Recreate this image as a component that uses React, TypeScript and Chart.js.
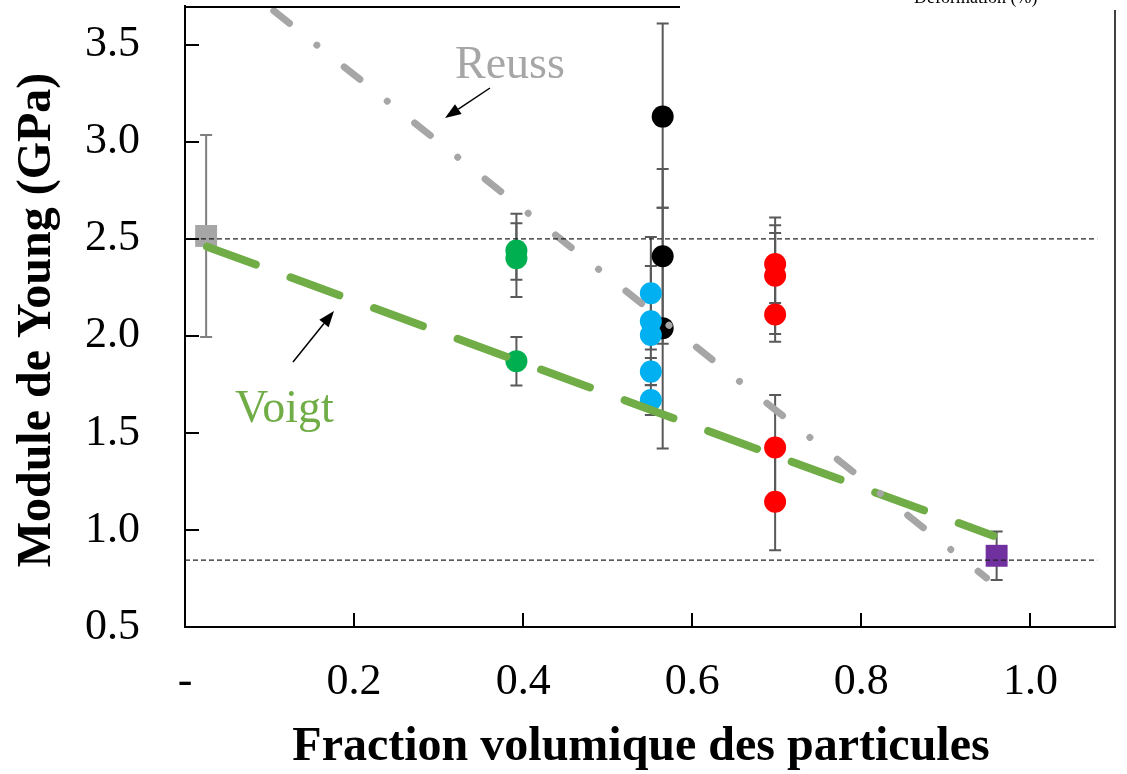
import React, { useEffect, useRef } from 'react';
import { Chart, registerables } from 'chart.js';

Chart.register(...registerables);

// ---- data ----
const xTickValues = [0, 0.2, 0.4, 0.6, 0.8, 1.0];
const xTickLabels = ['-', '0.2', '0.4', '0.6', '0.8', '1.0'];
const yTickValues = [0.5, 1.0, 1.5, 2.0, 2.5, 3.0, 3.5];

const matrixX = [0.025];
const matrixY = [2.515];
const matrixErrUp = [0.52];
const matrixErrDown = [0.52];

const greenX = [0.392, 0.392, 0.392];
const greenY = [2.44, 2.4, 1.87];
const greenErrUp = [0.14, 0.23, 0.125];
const greenErrDown = [0.15, 0.2, 0.125];

const blueX = [0.551, 0.551, 0.551, 0.551, 0.551];
const blueY = [2.22, 2.075, 2.005, 1.816, 1.67];
const blueErrUp = [0.29, 0.285, 0.0, 0.07, 0.077];
const blueErrDown = [0.29, 0.285, 0.0, 0.07, 0.077];

const blackX = [0.565, 0.565, 0.565];
const blackY = [3.13, 2.41, 2.04];
const blackErrUp = [0.48, 0.45, 0.62];
const blackErrDown = [0.47, 0.45, 0.62];

const redX = [0.698, 0.698, 0.698, 0.698, 0.698];
const redY = [2.37, 2.31, 2.11, 1.425, 1.145];
const redErrUp = [0.2, 0.3, 0.42, 0.27, 0.25];
const redErrDown = [0.2, 0.3, 0.14, 0.27, 0.25];

const particleX = [0.96];
const particleY = [0.867];
const particleErrUp = [0.125];
const particleErrDown = [0.125];

const voigtX = [0.026, 0.956];
const voigtY = [2.46, 0.97];
const reussX = [0.105, 0.948];
const reussY = [3.675, 0.753];

const refLineX = [0, 1.079];
const refLineY = [2.5, 0.845];

const X_MIN = 0;
const X_MAX = 1.1;
const Y_MIN = 0.5;
const Y_MAX = 3.7;

const SERIF = "'Liberation Serif', 'Times New Roman', serif";

const pts = (xs: number[], ys: number[]) => xs.map((x, i) => ({ x, y: ys[i] }));

const errorSets = [
  { xs: matrixX, ys: matrixY, up: matrixErrUp, down: matrixErrDown, color: '#7f7f7f' },
  { xs: greenX, ys: greenY, up: greenErrUp, down: greenErrDown, color: '#595959' },
  { xs: blackX, ys: blackY, up: blackErrUp, down: blackErrDown, color: '#595959' },
  { xs: blueX, ys: blueY, up: blueErrUp, down: blueErrDown, color: '#595959' },
  { xs: redX, ys: redY, up: redErrUp, down: redErrDown, color: '#595959' },
  { xs: particleX, ys: particleY, up: particleErrUp, down: particleErrDown, color: '#595959' },
];

function arrow(ctx: CanvasRenderingContext2D, x1: number, y1: number, x2: number, y2: number) {
  const ang = Math.atan2(y2 - y1, x2 - x1);
  const hl = 16;
  const hw = 6;
  const bx = x2 - hl * Math.cos(ang);
  const by = y2 - hl * Math.sin(ang);
  ctx.save();
  ctx.strokeStyle = '#000';
  ctx.fillStyle = '#000';
  ctx.lineWidth = 1.5;
  ctx.beginPath();
  ctx.moveTo(x1, y1);
  ctx.lineTo(bx, by);
  ctx.stroke();
  ctx.beginPath();
  ctx.moveTo(x2, y2);
  ctx.lineTo(bx + hw * Math.sin(ang), by - hw * Math.cos(ang));
  ctx.lineTo(bx - hw * Math.sin(ang), by + hw * Math.cos(ang));
  ctx.closePath();
  ctx.fill();
  ctx.restore();
}

const decorPlugin = {
  id: 'decor',
  beforeDatasetsDraw(chart: any) {
    const { ctx, scales } = chart;
    const xs = scales.x;
    const ys = scales.y;
    ctx.save();
    errorSets.forEach((s) => {
      ctx.strokeStyle = s.color;
      ctx.lineWidth = 2;
      s.xs.forEach((xv, i) => {
        if (!s.up[i] && !s.down[i]) return;
        const px = xs.getPixelForValue(xv);
        const pTop = ys.getPixelForValue(s.ys[i] + s.up[i]);
        const pBot = ys.getPixelForValue(s.ys[i] - s.down[i]);
        ctx.beginPath();
        ctx.moveTo(px, pTop);
        ctx.lineTo(px, pBot);
        ctx.moveTo(px - 6, pTop);
        ctx.lineTo(px + 6, pTop);
        ctx.moveTo(px - 6, pBot);
        ctx.lineTo(px + 6, pBot);
        ctx.stroke();
      });
    });
    ctx.restore();
  },
  afterDraw(chart: any) {
    const { ctx, scales, chartArea } = chart;
    const xs = scales.x;
    const ys = scales.y;
    ctx.save();
    // inward tick marks
    ctx.strokeStyle = '#000';
    ctx.lineWidth = 2;
    ctx.beginPath();
    yTickValues.forEach((v) => {
      const py = Math.round(ys.getPixelForValue(v));
      ctx.moveTo(chartArea.left, py);
      ctx.lineTo(chartArea.left + 14, py);
    });
    xTickValues.forEach((v) => {
      if (v === 0) return;
      const px = Math.round(xs.getPixelForValue(v));
      ctx.moveTo(px, chartArea.bottom);
      ctx.lineTo(px, chartArea.bottom - 14);
    });
    ctx.stroke();
    // partial frame
    ctx.beginPath();
    ctx.moveTo(chartArea.left, chartArea.top + 1);
    ctx.lineTo(680, chartArea.top + 1);
    ctx.stroke();
    ctx.lineWidth = 1.5;
    ctx.beginPath();
    ctx.moveTo(chartArea.right, 10);
    ctx.lineTo(chartArea.right, chartArea.bottom);
    ctx.stroke();

    // axis titles
    ctx.fillStyle = '#000';
    ctx.font = `bold 48px ${SERIF}`;
    ctx.textAlign = 'center';
    ctx.textBaseline = 'alphabetic';
    ctx.fillText('Fraction volumique des particules', 641, 760);
    ctx.save();
    ctx.translate(50, 320);
    ctx.rotate(-Math.PI / 2);
    ctx.fillText('Module de Young (GPa)', 0, 0);
    ctx.restore();

    // annotations
    ctx.textAlign = 'left';
    ctx.font = `46px ${SERIF}`;
    ctx.fillStyle = '#A6A6A6';
    ctx.fillText('Reuss', 455, 78);
    ctx.fillStyle = '#70AD47';
    ctx.fillText('Voigt', 235, 422);
    arrow(ctx, 490, 88, 445, 118);
    arrow(ctx, 293, 362, 334, 311);

    // clipped caption at the top right
    ctx.fillStyle = '#000';
    ctx.font = `18px ${SERIF}`;
    ctx.fillText('Déformation (%)', 914, 3);
    ctx.restore();
  },
};

export default function App() {
  const ref = useRef<HTMLCanvasElement | null>(null);
  useEffect(() => {
    if (!ref.current) return;
    const dot = (data: any, color: string, order: number, style = 'circle', r = 11) => ({
      type: 'scatter',
      data,
      pointStyle: style,
      pointRadius: r,
      pointHoverRadius: r,
      pointBackgroundColor: color,
      pointBorderWidth: 0,
      borderWidth: 0,
      showLine: false,
      order,
    });
    const refLine = (y: number) => ({
      type: 'line',
      data: pts(refLineX, [y, y]),
      borderColor: '#222',
      borderWidth: 1.3,
      borderDash: [5, 3],
      pointRadius: 0,
      fill: false,
      order: 0,
    });
    const chart = new Chart(ref.current, {
      type: 'scatter',
      data: {
        datasets: [
          refLine(refLineY[0]),
          refLine(refLineY[1]),
          {
            type: 'line',
            data: pts(reussX, reussY),
            borderColor: '#A6A6A6',
            borderWidth: 7,
            borderDash: [20, 35, 0.01, 35],
            borderCapStyle: 'round',
            pointRadius: 0,
            fill: false,
            order: 1,
          },
          {
            type: 'line',
            data: pts(voigtX, voigtY),
            borderColor: '#70AD47',
            borderWidth: 8,
            borderDash: [52, 37],
            borderCapStyle: 'round',
            pointRadius: 0,
            fill: false,
            order: 2,
          },
          dot(pts(blueX, blueY), '#00B0F0', 3),
          dot(pts(redX, redY), '#FF0000', 4),
          dot(pts(greenX, greenY), '#00B050', 5),
          dot(pts(blackX, blackY), '#000000', 6),
          dot(pts(particleX, particleY), '#7030A0', 7, 'rect', 15.5),
          dot(pts(matrixX, matrixY), '#A6A6A6', 8, 'rect', 15.5),
        ] as any,
      },
      options: {
        responsive: false,
        animation: false,
        events: [],
        layout: { autoPadding: false, padding: { top: 6, right: 12, left: 0, bottom: 0 } },
        plugins: { legend: { display: false }, tooltip: { enabled: false }, title: { display: false } },
        scales: {
          x: {
            type: 'linear',
            min: X_MIN,
            max: X_MAX,
            afterBuildTicks: (s: any) => {
              s.ticks = xTickValues.map((v) => ({ value: v }));
            },
            afterFit: (s: any) => {
              s.height = 147;
              s.paddingLeft = 0;
              s.paddingRight = 0;
              s.paddingTop = 0;
              s.paddingBottom = 0;
            },
            grid: { display: true, drawOnChartArea: false, drawTicks: false },
            border: { display: true, color: '#000', width: 2 },
            ticks: {
              padding: 29,
              color: '#000',
              font: { family: SERIF, size: 44 },
              maxRotation: 0,
              autoSkip: false,
              callback: (_v: any, i: number) => xTickLabels[i],
            },
          },
          y: {
            type: 'linear',
            min: Y_MIN,
            max: Y_MAX,
            afterBuildTicks: (s: any) => {
              s.ticks = yTickValues.map((v) => ({ value: v }));
            },
            afterFit: (s: any) => {
              s.width = 185;
              s.paddingLeft = 0;
              s.paddingRight = 0;
              s.paddingTop = 0;
              s.paddingBottom = 0;
            },
            grid: { display: true, drawOnChartArea: false, drawTicks: false },
            border: { display: true, color: '#000', width: 2 },
            ticks: {
              padding: 45,
              color: '#000',
              font: { family: SERIF, size: 44 },
              autoSkip: false,
              callback: (v: any) => Number(v).toFixed(1),
            },
          },
        },
      } as any,
      plugins: [decorPlugin],
    });
    return () => chart.destroy();
  }, []);
  return (
    <div style={{ position: 'absolute', left: 0, top: 0, width: 1127, height: 774, background: '#fff' }}>
      <canvas ref={ref} width={1127} height={774} style={{ display: 'block' }} />
    </div>
  );
}
